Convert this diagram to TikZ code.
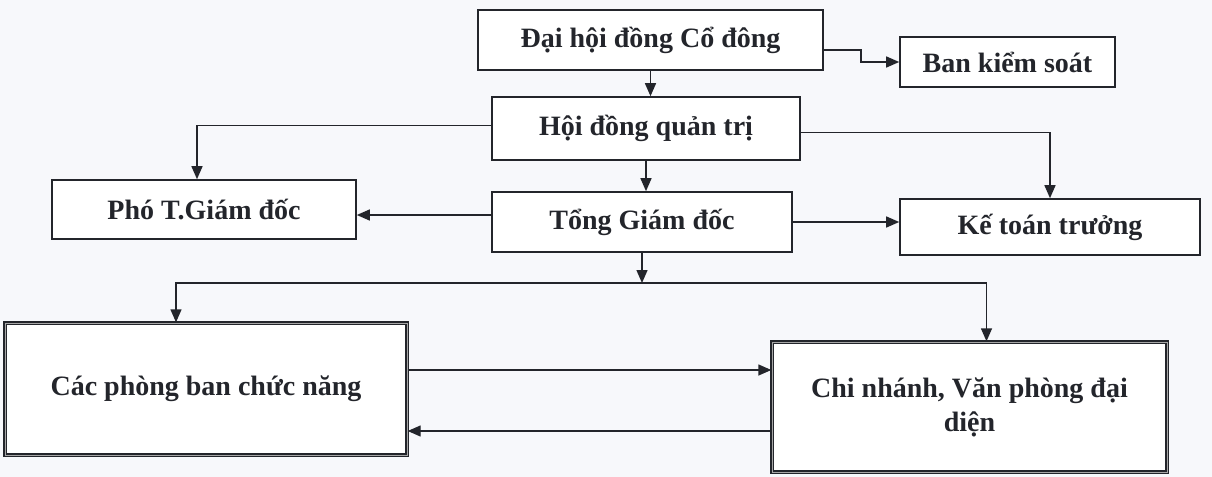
\documentclass[tikz,border=0pt]{standalone}
\usepackage{fontspec}
\setmainfont{Liberation Serif}
\usetikzlibrary{arrows.meta,positioning}
\definecolor{paper}{RGB}{247,248,251}
\definecolor{ink}{RGB}{35,37,43}

\tikzset{
  box/.style={draw=ink,line width=0.8pt,fill=white,text=ink,font=\bfseries\fontsize{14}{17}\selectfont,inner sep=2pt},
  bigbox/.style={box,double=gray!70,double distance=0.5pt,line width=0.7pt,align=center},
  link/.style={draw=ink,line width=0.7pt}
}

\begin{document}
\begin{tikzpicture}[>={Triangle[length=6.5pt,width=5.5pt]},x=0.5pt,y=-0.5pt]

\fill[paper] (0,0) rectangle (1212,477);
\useasboundingbox (0,0) rectangle (1212,477);

\node[box,minimum width=172.5pt,minimum height=30pt]   (dhcd) at (650.5,40)  {Đại hội đồng Cổ đông};
\node[box,minimum width=107.5pt,minimum height=25pt]   (bks)  at (1007.5,62) {Ban kiểm soát};
\node[box,minimum width=154pt,minimum height=31.5pt]   (hdqt) at (646,128.5) {Hội đồng quản trị};
\node[box,minimum width=152pt,minimum height=29.5pt]   (pho)  at (204,209.5) {Phó T.Giám đốc};
\node[box,minimum width=150pt,minimum height=30pt]     (tgd)  at (642,222)   {Tổng Giám đốc};
\node[box,minimum width=150pt,minimum height=28pt]     (ktt)  at (1050,227)  {Kế toán trưởng};
\node[bigbox,minimum width=201pt,minimum height=66pt]  (cpb)  at (206,389)   {Các phòng ban chức năng};
\node[bigbox,minimum width=197.5pt,minimum height=65pt] (cn)   at (969.5,407) {Chi nhánh, Văn phòng đại\\diện};

\coordinate (split) at (645,283);

\path[link,->] ([yshift=-5pt]dhcd.east) -- ++(18.5pt,0) |- (bks.west);
\path[link,->] (dhcd.south) -- (dhcd.south |- hdqt.north);
\path[link,->] ([yshift=1.5pt]hdqt.west) -| ([xshift=-3.5pt]pho.north);
\path[link,->] ([yshift=-2pt]hdqt.east) -| (ktt.north);
\path[link,->] (hdqt.south) -- (hdqt.south |- tgd.north);
\path[link,->] ([yshift=3.5pt]tgd.west) -- ([yshift=3.5pt]tgd.west -| pho.east);
\path[link,->] (tgd.east) -- (tgd.east -| ktt.west);
\path[link,->] (tgd.south) -- (tgd.south |- split);
\path[link,->] (split) -| ([xshift=-15pt]cpb.north);
\path[link,->] (split) -| ([xshift=8.5pt]cn.north);
\path[link,->] ([yshift=9.5pt]cpb.east) -- ([yshift=9.5pt]cpb.east -| cn.west);
\path[link,->] ([yshift=-12pt]cn.west) -- ([yshift=-12pt]cn.west -| cpb.east);

\end{tikzpicture}
\end{document}
